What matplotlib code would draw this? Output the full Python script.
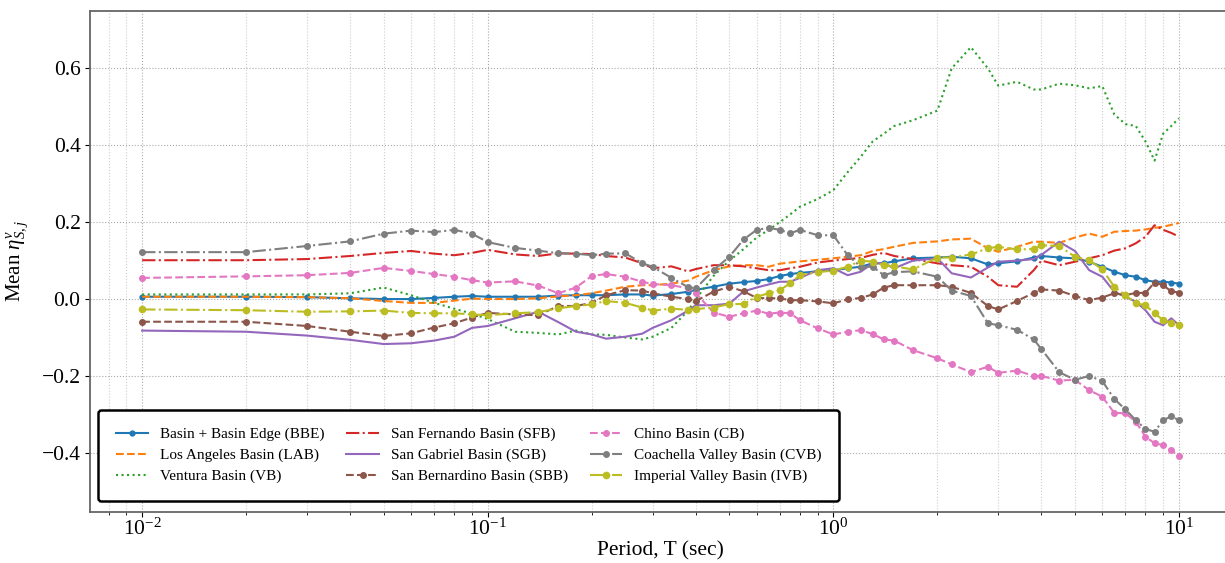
import numpy as np
import matplotlib
matplotlib.use("Agg")
import matplotlib.pyplot as plt

plt.rcParams['font.family'] = ['Liberation Serif', 'DejaVu Serif']
plt.rcParams['mathtext.fontset'] = 'custom'
plt.rcParams['mathtext.rm'] = 'Liberation Serif'
plt.rcParams['mathtext.it'] = 'Liberation Serif:italic'
plt.rcParams['mathtext.bf'] = 'Liberation Serif:bold'

# === Data ===
periods = [0.01, 0.02, 0.03, 0.04, 0.05, 0.06, 0.07, 0.08, 0.09, 0.1,
           0.12, 0.14, 0.16, 0.18, 0.2, 0.22, 0.25, 0.28, 0.3, 0.34,
           0.38, 0.4, 0.45, 0.5, 0.55, 0.6, 0.65, 0.7, 0.75, 0.8,
           0.9, 1.0, 1.1, 1.2, 1.3, 1.4, 1.5, 1.7, 2.0, 2.2,
           2.5, 2.8, 3.0, 3.4, 3.8, 4.0, 4.5, 5.0, 5.5, 6.0,
           6.5, 7.0, 7.5, 8.0, 8.5, 9.0, 9.5, 10.0]

bbe = [0.006, 0.006, 0.005, 0.002, 0.0, 0.0, 0.003, 0.006, 0.008, 0.006,
       0.006, 0.006, 0.009, 0.010, 0.010, 0.010, 0.012, 0.012, 0.009, 0.013,
       0.019, 0.024, 0.032, 0.040, 0.044, 0.047, 0.052, 0.060, 0.065, 0.068,
       0.072, 0.075, 0.080, 0.084, 0.093, 0.093, 0.098, 0.106, 0.108, 0.110,
       0.106, 0.090, 0.093, 0.098, 0.108, 0.112, 0.108, 0.106, 0.097, 0.084,
       0.071, 0.062, 0.058, 0.049, 0.045, 0.045, 0.043, 0.040]

lab = [0.006, 0.006, 0.005, 0.002, -0.005, -0.010, -0.010, -0.004, 0.001, 0.0,
       0.0, 0.002, 0.007, 0.010, 0.015, 0.022, 0.032, 0.036, 0.036, 0.040,
       0.048, 0.058, 0.075, 0.085, 0.088, 0.088, 0.084, 0.092, 0.095, 0.098,
       0.102, 0.106, 0.110, 0.114, 0.125, 0.130, 0.136, 0.146, 0.150, 0.155,
       0.157, 0.132, 0.123, 0.136, 0.149, 0.149, 0.146, 0.160, 0.170, 0.162,
       0.175, 0.177, 0.178, 0.181, 0.185, 0.188, 0.193, 0.198]

vb = [0.012, 0.012, 0.012, 0.015, 0.030, 0.010, -0.010, -0.025, -0.038, -0.052,
      -0.085, -0.088, -0.092, -0.082, -0.092, -0.093, -0.100, -0.105, -0.098, -0.075,
      -0.030, 0.0, 0.060, 0.100, 0.130, 0.160, 0.180, 0.200, 0.220, 0.240,
      0.260, 0.283, 0.330, 0.370, 0.410, 0.430, 0.450, 0.465, 0.490, 0.600,
      0.655, 0.600, 0.555, 0.565, 0.545, 0.545, 0.560, 0.556, 0.548, 0.554,
      0.480, 0.455, 0.450, 0.410, 0.360, 0.430, 0.450, 0.470]

sfb = [0.101, 0.101, 0.104, 0.112, 0.120, 0.125, 0.118, 0.114, 0.120, 0.128,
       0.116, 0.112, 0.119, 0.118, 0.117, 0.112, 0.108, 0.093, 0.080, 0.085,
       0.072, 0.078, 0.088, 0.088, 0.085, 0.080, 0.075, 0.075, 0.080, 0.084,
       0.095, 0.100, 0.104, 0.107, 0.115, 0.120, 0.112, 0.104, 0.093, 0.088,
       0.084, 0.058, 0.036, 0.032, 0.075, 0.100, 0.088, 0.097, 0.106, 0.114,
       0.126, 0.132, 0.145, 0.162, 0.192, 0.180, 0.172, 0.162]

sgb = [-0.082, -0.085, -0.095, -0.106, -0.117, -0.115, -0.108, -0.098, -0.075, -0.070,
       -0.050, -0.033, -0.060, -0.085, -0.092, -0.103, -0.098, -0.090, -0.075, -0.055,
       -0.030, -0.016, -0.016, -0.012, 0.020, 0.030, 0.038, 0.045, 0.045, 0.055,
       0.075, 0.080, 0.062, 0.071, 0.093, 0.093, 0.080, 0.100, 0.106, 0.067,
       0.056, 0.082, 0.097, 0.100, 0.104, 0.115, 0.149, 0.125, 0.075, 0.058,
       0.019, 0.006, -0.007, -0.029, -0.059, -0.068, -0.050, -0.068]

sbb = [-0.059, -0.059, -0.070, -0.085, -0.096, -0.089, -0.074, -0.063, -0.048, -0.036,
       -0.040, -0.042, -0.018, -0.018, -0.010, 0.010, 0.023, 0.022, 0.015, 0.006,
       0.0, -0.005, 0.019, 0.032, 0.020, 0.003, 0.002, 0.002, -0.003, -0.003,
       -0.006, -0.011, -0.001, 0.003, 0.012, 0.030, 0.036, 0.036, 0.036, 0.032,
       0.016, -0.018, -0.027, -0.005, 0.016, 0.025, 0.022, 0.008, -0.003, 0.004,
       0.015, 0.010, 0.016, 0.016, 0.043, 0.036, 0.020, 0.017]

cb = [0.055, 0.059, 0.062, 0.068, 0.081, 0.073, 0.065, 0.058, 0.049, 0.043,
      0.046, 0.035, 0.015, 0.030, 0.060, 0.065, 0.058, 0.045, 0.039, 0.036,
      0.028, 0.015, -0.035, -0.046, -0.037, -0.030, -0.038, -0.035, -0.037, -0.055,
      -0.076, -0.092, -0.085, -0.081, -0.091, -0.105, -0.108, -0.133, -0.154, -0.170,
      -0.190, -0.176, -0.192, -0.186, -0.200, -0.200, -0.212, -0.210, -0.237, -0.254,
      -0.296, -0.297, -0.319, -0.358, -0.375, -0.380, -0.393, -0.408]

cvb = [0.122, 0.122, 0.138, 0.150, 0.170, 0.178, 0.174, 0.180, 0.170, 0.148,
       0.133, 0.126, 0.119, 0.118, 0.114, 0.118, 0.119, 0.093, 0.084, 0.055,
       0.031, 0.028, 0.075, 0.110, 0.155, 0.180, 0.185, 0.180, 0.171, 0.180,
       0.166, 0.166, 0.114, 0.084, 0.084, 0.062, 0.070, 0.072, 0.058, 0.022,
       0.008, -0.063, -0.068, -0.080, -0.105, -0.130, -0.190, -0.210, -0.200, -0.213,
       -0.260, -0.287, -0.315, -0.338, -0.345, -0.315, -0.305, -0.315]

ivb = [-0.027, -0.029, -0.033, -0.032, -0.030, -0.036, -0.037, -0.037, -0.040, -0.042,
       -0.037, -0.034, -0.024, -0.018, -0.014, -0.005, -0.010, -0.022, -0.030, -0.025,
       -0.028, -0.026, -0.022, -0.013, -0.013, 0.006, 0.015, 0.023, 0.041, 0.062,
       0.070, 0.074, 0.084, 0.100, 0.097, 0.088, 0.085, 0.077, 0.108, 0.108,
       0.116, 0.132, 0.136, 0.129, 0.130, 0.140, 0.138, 0.110, 0.101, 0.077,
       0.032, 0.010, -0.011, -0.016, -0.037, -0.055, -0.062, -0.068]

labels = ["Basin + Basin Edge (BBE)", "Los Angeles Basin (LAB)", "Ventura Basin (VB)",
          "San Fernando Basin (SFB)", "San Gabriel Basin (SGB)", "San Bernardino Basin (SBB)",
          "Chino Basin (CB)", "Coachella Valley Basin (CVB)", "Imperial Valley Basin (IVB)"]
series = [bbe, lab, vb, sfb, sgb, sbb, cb, cvb, ivb]

# style per series: color, linestyle, marker, markersize
styles = [
    ("tab:blue", "-", "o", 3.5),
    ("tab:orange", "--", None, 0),
    ("tab:green", ":", None, 0),
    ("tab:red", "-.", None, 0),
    ("tab:purple", "-", None, 0),
    ("tab:brown", "--", "o", 4),
    ("tab:pink", "--", "o", 4),
    ("tab:gray", "-.", "o", 4),
    ("tab:olive", "-.", "o", 4.5),
]

# === Plot ===
fig = plt.figure(figsize=(12.25, 5.63), dpi=100)
ax = fig.add_axes([90.3 / 1225, 0.0911, (1230.8 - 90.3) / 1225, 0.890])

for vals, lab_, (c, ls, mk, ms) in zip(series, labels, styles):
    ax.plot(periods, vals, color=c, linestyle=ls, marker=mk, markersize=ms,
            linewidth=1.5, label=lab_)

ax.set_xscale('log')
ax.set_xlim(10 ** -2.15, 10 ** 1.15)
ax.set_ylim(-0.553, 0.75)
ax.set_yticks([-0.4, -0.2, 0.0, 0.2, 0.4, 0.6])
ax.set_yticklabels(["\u22120.4", "\u22120.2", "0.0", "0.2", "0.4", "0.6"])

ax.grid(True, which='major', linestyle=':', color='#aaaaaa', linewidth=0.8)
ax.grid(True, which='minor', axis='x', linestyle=':', color='#cccccc', linewidth=0.8)
ax.set_axisbelow(True)

ax.tick_params(axis='both', which='major', labelsize=15.5)
ax.tick_params(axis='x', which='major', pad=1.5)
for sp in ax.spines.values():
    sp.set_color('#666666')
    sp.set_linewidth(1.3)

ax.set_xlabel("Period, T (sec)", fontsize=15.5, labelpad=1)
ax.set_ylabel(r"Mean $\eta^{v}_{S,j}$", fontsize=15, labelpad=8)

leg = ax.legend(loc='lower left', ncol=3, fontsize=11, frameon=True,
                edgecolor='black', framealpha=1, fancybox=True,
                borderpad=1.15, labelspacing=0.48, handlelength=2.1,
                handletextpad=0.8, columnspacing=1.45,
                bbox_to_anchor=(0.0, 0.006))
leg.get_frame().set_linewidth(1.8)

plt.savefig("out.png", dpi=100)
